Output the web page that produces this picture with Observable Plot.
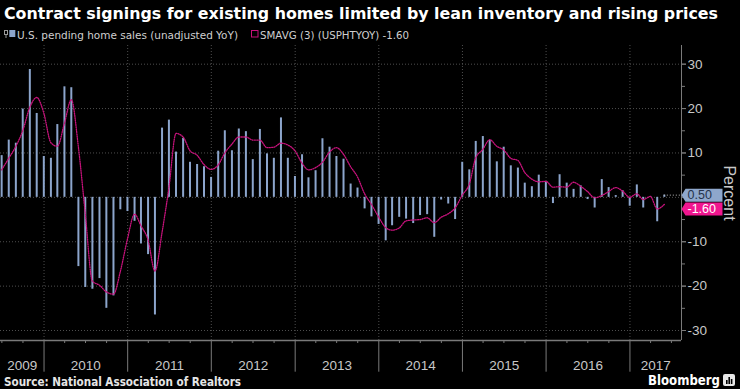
<!DOCTYPE html>
<html><head><meta charset="utf-8">
<script src="https://cdn.jsdelivr.net/npm/d3@7"></script>
<script src="https://cdn.jsdelivr.net/npm/@observablehq/plot@0.6"></script>
<style>
html,body{margin:0;padding:0;background:#000;}
#wrap{position:relative;width:740px;height:389px;overflow:hidden;background:#000;}
.t{position:absolute;white-space:nowrap;line-height:1;transform-origin:0 0;}
#chart{position:absolute;left:0;top:41px;}
</style></head><body><div id="wrap">
<div class="t" data-w="714" style="left:4px;top:3.5px;font:bold 16px 'DejaVu Sans';color:#fff">Contract signings for existing homes limited by lean inventory and rising prices</div>
<svg style="position:absolute;left:4px;top:30px" width="12" height="8"><rect x="0.5" y="0.5" width="3" height="4" fill="none" stroke="#9a9a9a"/><line x1="2" y1="4.5" x2="2" y2="8" stroke="#9a9a9a"/><rect x="5.3" y="0" width="6" height="7" fill="#8ca5cc"/></svg>
<div class="t" data-w="221" style="left:17px;top:28.8px;font:10.5px 'DejaVu Sans';color:#cfcfcf">U.S. pending home sales (unadjusted YoY)</div>
<svg style="position:absolute;left:251px;top:30px" width="8" height="8"><rect x="0.5" y="0.5" width="6.5" height="6.5" fill="none" stroke="#c8107a"/></svg>
<div class="t" data-w="149" style="left:260px;top:28.8px;font:10.5px 'DejaVu Sans';color:#cfcfcf">SMAVG (3) (USPHTYOY) -1.60</div>
<div id="chart"></div>
<div class="t" data-w="237" style="left:4px;top:375.4px;font:bold 11.4px 'DejaVu Sans';color:#e6e6e6">Source: National Association of Realtors</div>
<div class="t" data-w="72" style="left:648px;top:372.7px;font:bold 13.3px 'DejaVu Sans';color:#fff">Bloomberg</div>
<svg style="position:absolute;left:723px;top:374px" width="13" height="12"><rect x="0" y="0" width="12" height="12" rx="2" fill="#e8e8e8"/><rect x="3" y="6" width="1.6" height="4" fill="#000"/><rect x="5.4" y="3" width="1.6" height="7" fill="#000"/><rect x="7.8" y="5" width="1.6" height="5" fill="#000"/></svg>
</div>
<script>
// Monthly data, Jun 2009 - May 2017
const firstMonth = "2009-06-01";
const monthCount = 96;
const sales = [
  9.4, 12.9, 12.2, 19.9, 28.8, 18.9, 9.2,
  8.8, 16.4, 24.9, 24.7, -15.6, -20.3, -20.7, -18.3, -25.0, -22.2, -2.8, -3.2,
  -5.4, -10.5, -12.9, -26.5, 15.6, 17.4, 10.2, 13.3, 7.9, 7.4, 6.9, 4.5,
  10.4, 15.0, 10.5, 15.4, 14.8, 8.5, 15.3, 9.8, 8.8, 17.9, 8.8, 4.7,
  9.6, 4.4, 6.0, 13.2, 11.3, 9.2, 8.6, 3.0, 2.1, -2.6, -4.4, -6.1,
  -9.8, -6.4, -4.5, -4.9, -5.9, -4.1, -3.9, -9.0, -0.6, -1.5, -5.0, 7.9,
  6.2, 12.6, 13.7, 12.8, 8.0, 11.3, 7.1, 6.6, 3.2, 2.4, 5.0, 3.4,
  -1.4, 5.1, 3.2, 1.8, 2.6, -0.5, -2.4, 4.0, 2.2, 0.4, 1.5, -2.0,
  2.8, -2.4, 0.2, -5.5, 0.5
];
const smavg = [
  6.2, 8.8, 11.5, 15.0, 20.3, 22.5, 19.0,
  12.3, 11.5, 16.7, 22.0, 11.3, -3.7, -18.9, -19.8, -21.3, -21.8, -16.7, -9.4,
  -3.8, -6.4, -9.6, -16.6, -7.9, 2.2, 14.4, 13.6, 10.5, 9.5, 7.4, 6.3,
  7.3, 10.0, 12.0, 13.6, 13.6, 12.9, 12.9, 11.2, 11.3, 12.2, 11.8, 10.5,
  7.7, 6.2, 6.7, 7.9, 10.2, 11.2, 9.7, 6.9, 4.6, 0.8, -1.6, -4.4,
  -6.8, -7.4, -6.9, -5.3, -5.1, -5.0, -4.6, -5.7, -4.5, -3.7, -2.4, 0.5,
  3.0, 8.9, 10.8, 13.0, 11.5, 10.7, 8.8, 8.3, 5.6, 4.1, 3.5, 3.6,
  2.3, 2.4, 2.3, 3.4, 2.5, 1.3, -0.1, 0.4, 1.3, 2.2, 1.4, 0.0,
  0.8, -0.5, 0.2, -2.6, -1.6
];
const yearLabels = ["2009","2010","2011","2012","2013","2014","2015","2016","2017"];
const yTicks = [-30, -20, -10, 0, 10, 20, 30];
const yLabelTicks = [-30, -20, -10, 10, 20, 30];
const yMinorTicks = [-25, -15, -5, 5, 15, 25];
const tagValues = [-1.60, 0.50];
const tagLabels = ["-1.60", "0.50"];
const tagFills = ["#f0168f", "#8ea7cc"];
const tagTextColors = ["#ffffff", "#26334b"];
const tagShift = [4.5, 0];

const barColor = "#8ca5cc";
const lineColor = "#c8127c";
const gridColor = "#4e4e4e";
const axisColor = "#7a7a7a";
const textColor = "#c8c8c8";

const xStart = new Date(Date.UTC(2009, 5, 25));
const xEnd = new Date(Date.UTC(2017, 7, 14));
const yDomain = [-32.25, 34.21];

const start = new Date(firstMonth + "T00:00Z");
const months = d3.utcMonth.range(start, d3.utcMonth.offset(start, monthCount));
const rows = months.map((m, i) => ({
  date: d3.utcDay.offset(d3.utcMonth.offset(m, 1), -1),
  sales: sales[i],
  sma: smavg[i]
}));
const lastRow = rows[rows.length - 1];

const yearStarts = d3.utcYear.range(new Date(Date.UTC(2010,0,1)), xEnd);
const quarterTicks = d3.utcMonth.every(3).range(xStart, xEnd).filter(d => d.getUTCMonth() !== 0);
const yearMid = yearLabels.map(y => {
  const a = new Date(Date.UTC(+y, 0, 1)), b = new Date(Date.UTC(+y + 1, 0, 1));
  const lo = a < xStart ? xStart : a, hi = b > xEnd ? xEnd : b;
  return {label: y, mid: new Date((+lo + +hi) / 2)};
});

const tagSymbol = {draw(ctx) {
  ctx.moveTo(0, 0); ctx.lineTo(4, -6.5); ctx.lineTo(41, -6.5);
  ctx.lineTo(41, 6.5); ctx.lineTo(4, 6.5); ctx.closePath();
}};

const tagMarks = tagValues.flatMap((v, i) => [
  Plot.dot([v], {x: () => xEnd, y: d => d, dy: tagShift[i], symbol: tagSymbol, r: 5, fill: tagFills[i], stroke: "none"}),
  Plot.text([v], {x: () => xEnd, y: d => d, dy: tagShift[i], text: () => tagLabels[i], textAnchor: "start", dx: 6,
    fill: tagTextColors[i], fontSize: 12.5})
]);

const chart = Plot.plot({
  width: 740, height: 332,
  marginTop: 4, marginRight: 59, marginBottom: 33, marginLeft: 0,
  style: {background: "#000", color: textColor, fontFamily: "'Liberation Sans', Arial, sans-serif", fontSize: "13.5px", overflow: "visible"},
  x: {type: "utc", domain: [xStart, xEnd], label: null},
  y: {domain: yDomain, label: null},
  marks: [
    Plot.ruleY(yTicks, {stroke: gridColor, strokeDasharray: "1,2"}),
    Plot.ruleX(yearStarts, {stroke: gridColor, strokeDasharray: "1,2"}),
    Plot.ruleX(rows, {x: "date", y1: 0, y2: "sales", stroke: barColor, strokeWidth: 2}),
    Plot.line(rows, {x: "date", y: "sma", stroke: lineColor, strokeWidth: 1.3, strokeDasharray: "1,1.3", curve: "monotone-x"}),
    Plot.ruleY([yDomain[0]], {stroke: axisColor, strokeWidth: 1.5}),
    Plot.ruleX([xEnd], {stroke: axisColor}),
    Plot.axisX({ticks: yearStarts, tickSize: 31.7, stroke: axisColor, fill: "none", label: null}),
    Plot.axisX({ticks: quarterTicks, tickSize: 3, stroke: axisColor, fill: "none", label: null}),
    Plot.text(yearMid, {x: "mid", text: "label", frameAnchor: "bottom", lineAnchor: "bottom", dy: 29.3, fill: textColor, fontSize: 13.5}),
    Plot.axisY({anchor: "right", ticks: yTicks, tickSize: 4, stroke: axisColor, fill: "none", label: null}),
    Plot.axisY({anchor: "right", ticks: yLabelTicks, tickSize: 4, tickPadding: 2, tickFormat: d => String(d), stroke: axisColor, fill: textColor, fontSize: 13.5, label: null}),
    Plot.axisY({anchor: "right", ticks: yMinorTicks, tickSize: 3, stroke: axisColor, fill: "none", label: null}),
    Plot.ruleY([lastRow.sales], {x1: lastRow.date, x2: xEnd, stroke: "#bbbbbb", strokeDasharray: "1,2"}),
    ...tagMarks,
    Plot.text(["Percent"], {frameAnchor: "right", dx: 48, rotate: 90, textAnchor: "middle", lineAnchor: "middle", fontSize: 16, fill: textColor})
  ]
});
document.getElementById("chart").appendChild(chart);

document.querySelectorAll("[data-w]").forEach(el => {
  const w = el.getBoundingClientRect().width;
  if (w > 0) el.style.transform = `scaleX(${(+el.dataset.w / w).toFixed(4)})`;
});
</script>
</body></html>
